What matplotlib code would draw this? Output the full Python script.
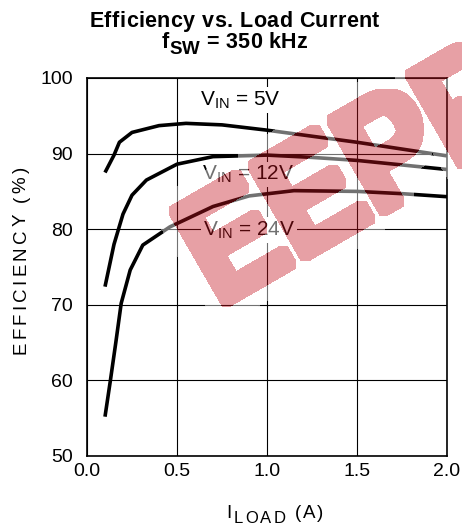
import matplotlib
matplotlib.use('Agg')
import matplotlib.pyplot as plt
import matplotlib.patches as patches
from matplotlib.textpath import TextPath
from matplotlib.font_manager import FontProperties, findfont, get_font
from matplotlib.transforms import Affine2D
import numpy as np

plt.rcParams['font.family'] = ['Liberation Sans', 'DejaVu Sans']
plt.rcParams['mathtext.fontset'] = 'custom'
plt.rcParams['mathtext.rm'] = 'Liberation Sans'
plt.rcParams['mathtext.it'] = 'Liberation Sans:italic'
plt.rcParams['mathtext.bf'] = 'Liberation Sans:bold'

# Data
load_5v = [0.10, 0.15, 0.18, 0.25, 0.40, 0.55, 0.75, 1.00, 1.25, 1.50, 1.75, 2.00]
eff_5v = [87.5, 89.8, 91.5, 92.8, 93.7, 94.0, 93.8, 93.1, 92.3, 91.5, 90.6, 89.7]

load_12v = [0.10, 0.15, 0.20, 0.25, 0.33, 0.50, 0.70, 1.00, 1.25, 1.50, 1.75, 2.00]
eff_12v = [72.4, 78.0, 82.0, 84.5, 86.5, 88.6, 89.6, 89.8, 89.5, 89.1, 88.5, 87.9]

load_24v = [0.10, 0.13, 0.16, 0.19, 0.24, 0.31, 0.46, 0.70, 0.90, 1.15, 1.50, 1.75, 2.00]
eff_24v = [55.2, 60.0, 65.0, 70.2, 74.6, 77.9, 80.3, 83.0, 84.4, 85.1, 85.0, 84.7, 84.3]

x_ticks = [0.0, 0.5, 1.0, 1.5, 2.0]
y_ticks = [50, 60, 70, 80, 90, 100]

W, H = 462, 525
fig = plt.figure(figsize=(W / 100, H / 100), dpi=100)
ax = fig.add_axes([87 / W, 69 / H, 360 / W, 378 / H])

for xs, ys in [(load_5v, eff_5v), (load_12v, eff_12v), (load_24v, eff_24v)]:
    ax.plot(xs, ys, color='black', lw=2.6, solid_capstyle='butt', zorder=3)

ax.set_xlim(0, 2.0)
ax.set_ylim(50, 100)
ax.set_xticks(x_ticks)
ax.set_xticklabels([f'{v:.1f}' for v in x_ticks])
ax.set_yticks(y_ticks)
ax.tick_params(length=0, labelsize=14)
ax.tick_params(axis='y', pad=10)
ax.tick_params(axis='x', pad=5)
ax.grid(True, color='black', lw=0.8)
ax.set_axisbelow(True)
for s in ax.spines.values():
    s.set_linewidth(1.2)

lab = dict(fontsize=15, va='baseline', ha='left', zorder=2.5,
           bbox=dict(facecolor='white', edgecolor='none', pad=1.5))
ax.text(0.628, 96.4, r'V$_{\rm IN}$ = 5V', **lab)
ax.text(0.637, 86.5, r'V$_{\rm IN}$ = 12V', **lab)
ax.text(0.646, 79.2, r'V$_{\rm IN}$ = 24V', **lab)


# text with letter spacing, placed in figure pixels (y up)
def advance(ch, size, weight):
    font = get_font(findfont(FontProperties(family='Liberation Sans', weight=weight)))
    font.set_size(size, 100)
    return font.load_char(ord(ch)).linearHoriAdvance / 65536


def draw_runs(x0, y0, runs, rot=0, center=False):
    items, total = [], 0.0
    for text, size, dy, weight, track in runs:
        for ch in text:
            items.append((ch, size, dy, weight, total))
            total += advance(ch, size, weight) + track
    start = -total / 2 if center else 0.0
    th = np.deg2rad(rot)
    ux, uy, nx, ny = np.cos(th), np.sin(th), -np.sin(th), np.cos(th)
    for ch, size, dy, weight, off in items:
        px = x0 + (off + start) * ux + dy * nx
        py = y0 + (off + start) * uy + dy * ny
        fig.text(px / W, py / H, ch, fontsize=size, fontweight=weight, rotation=rot,
                 rotation_mode='anchor', ha='left', va='baseline')


draw_runs(234.5, H - 27, [('Efficiency vs. Load Current', 15.5, 0, 'bold', 0.45)], center=True)
draw_runs(234.5, H - 48.5, [('f', 15.5, 0, 'bold', 0.3), ('SW', 13.5, -5, 'bold', 0.3),
                            (' = 350 kHz', 15.5, 0, 'bold', 0.3)], center=True)
draw_runs(25.5, H - 354, [('EFFICIENCY (%)', 13.5, 0, 'normal', 3.2)], rot=90)
draw_runs(226.7, H - 518.3, [('I', 13.5, 0, 'normal', 2.0), ('LOAD', 12, -5, 'normal', 2.0),
                             (' (A)', 13.5, 0, 'normal', 2.0)])


# watermark stamp: letters thickened, soft white margin, all semi-transparent
class Stamp:
    def __init__(self, k, h, color):
        self.k, self.h, self.color = k, h, color

    @staticmethod
    def dilate(m, r):
        out = m.copy()
        for s in range(1, r + 1):
            out[s:, :] |= m[:-s, :]
            out[:-s, :] |= m[s:, :]
        m2 = out.copy()
        for s in range(1, r + 1):
            out[:, s:] |= m2[:, :-s]
            out[:, :-s] |= m2[:, s:]
        return out

    def __call__(self, im, dpi):
        pad = self.k + self.h + 2
        mask = np.pad(im[..., 3] > 0.5, pad)
        letters = self.dilate(mask, self.k)
        halo = self.dilate(mask, self.k + self.h) & ~letters
        out = np.zeros(mask.shape + (4,))
        out[letters] = list(self.color) + [0.4]
        out[halo] = [1, 1, 1, 0.45]
        return out, -pad, -pad


tp = TextPath((0, 0), 'EEPR', size=1,
              prop=FontProperties(family='Liberation Sans', weight='bold'))
ext = tp.get_extents()
em = 155
trans = (Affine2D().translate(-ext.x0, 0).scale(0.88 * em, em)
         .rotate_deg(30).translate(226, H - 303))
rp = patches.PathPatch(tp, facecolor='red', edgecolor='none', zorder=6)
rp.set_transform(trans)
rp.set_agg_filter(Stamp(4, 10, (197 / 255, 18 / 255, 30 / 255)))
fig.add_artist(rp)

fig.savefig('out.png', dpi=100)
